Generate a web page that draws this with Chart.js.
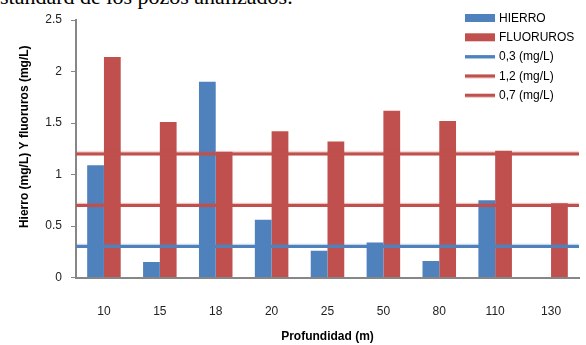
<!DOCTYPE html>
<html>
<head>
<meta charset="utf-8">
<script src="https://cdn.jsdelivr.net/npm/chart.js@4/dist/chart.umd.min.js"></script>
<style>
  html, body { margin: 0; padding: 0; background: #fff; }
  #wrap { position: relative; width: 586px; height: 345px; overflow: hidden; }
  #caption {
    position: absolute; left: 0; top: -14px; white-space: nowrap;
    font-family: "Liberation Serif", "DejaVu Serif", serif;
    font-size: 22px; line-height: 22px; color: #000;
  }
  canvas { position: absolute; left: 0; top: 0; }
</style>
</head>
<body>
<div id="wrap">
  <div id="caption">standard de los pozos analizados.</div>
  <canvas id="chart" width="586" height="345"></canvas>
</div>
<script>
// Profundidad de cada pozo (m)
const profundidades = ['10', '15', '18', '20', '25', '50', '80', '110', '130'];
// Concentraciones medidas (mg/L)
const hierro    = [1.09, 0.15, 1.90, 0.56, 0.26, 0.34, 0.16, 0.75, null];
const fluoruros = [2.14, 1.51, 1.22, 1.42, 1.32, 1.62, 1.52, 1.23, 0.72];
// Límites de referencia (mg/L)
const limiteHierro = 0.3;
const limiteFluorMax = 1.2;
const limiteFluorMin = 0.7;
// Etiquetas de la leyenda
const nombres = ['HIERRO', 'FLUORUROS', '0,3 (mg/L)', '1,2 (mg/L)', '0,7 (mg/L)'];

const AZUL = '#4F81BD';
const ROJO = '#C0504D';
const GRIS = '#868686';
const FUENTE = '"Liberation Sans", Arial, sans-serif';

// Wells sit at positions 1..n on a numeric x axis; the axis spans half a slot on each side
const xMin = 0.5;
const xMax = profundidades.length + 0.5;
const puntos = serie => serie.map((v, i) => ({ x: i + 1, y: v }));

// A horizontal reference line across the whole plot width
function linea(label, valor, color, halo) {
  return {
    type: 'line', label, order: 1,
    data: [{ x: xMin, y: valor }, { x: xMax, y: valor }],
    borderColor: color, backgroundColor: color, borderWidth: 3,
    pointRadius: 0, fill: false, halo
  };
}

// Soft halo around the reference lines
const haloPlugin = {
  id: 'halo',
  beforeDatasetDraw(chart, args) {
    const ds = chart.data.datasets[args.index];
    if (!ds.halo) return;
    const ctx = chart.ctx;
    ctx.save();
    ctx.shadowColor = ds.halo;
    ctx.shadowBlur = 1.5;
    ctx.shadowOffsetY = -1;
  },
  afterDatasetDraw(chart, args) {
    const ds = chart.data.datasets[args.index];
    if (ds.halo) chart.ctx.restore();
  }
};

// Legend drawn inside the plot, top-right
const leyendaPlugin = {
  id: 'leyenda',
  afterDraw(chart) {
    const ctx = chart.ctx;
    const x0 = 465, w = 30, y0 = 18, paso = 19.3;
    ctx.save();
    ctx.font = '12px ' + FUENTE;
    ctx.textBaseline = 'middle';
    ctx.textAlign = 'left';
    chart.data.datasets.forEach((ds, i) => {
      const y = y0 + i * paso;
      if (ds.type === 'line') {
        ctx.strokeStyle = ds.halo;
        ctx.lineWidth = 2;
        ctx.beginPath(); ctx.moveTo(x0, y + 1.5); ctx.lineTo(x0 + w, y + 1.5); ctx.stroke();
        ctx.strokeStyle = ds.borderColor;
        ctx.lineWidth = 3;
        ctx.beginPath(); ctx.moveTo(x0, y); ctx.lineTo(x0 + w, y); ctx.stroke();
      } else {
        ctx.fillStyle = ds.backgroundColor;
        ctx.fillRect(x0, y - 4, w, 8);
      }
      ctx.fillStyle = '#000';
      ctx.fillText(ds.label, x0 + w + 4, y + 0.5);
    });
    ctx.restore();
  }
};

new Chart(document.getElementById('chart'), {
  type: 'bar',
  data: {
    datasets: [
      { type: 'bar', label: nombres[0], data: puntos(hierro), backgroundColor: AZUL,
        order: 2, barPercentage: 1, categoryPercentage: 0.6 },
      { type: 'bar', label: nombres[1], data: puntos(fluoruros), backgroundColor: ROJO,
        order: 2, barPercentage: 1, categoryPercentage: 0.6 },
      linea(nombres[2], limiteHierro, AZUL, 'rgba(79,129,189,0.4)'),
      linea(nombres[3], limiteFluorMax, ROJO, 'rgba(192,80,77,0.4)'),
      linea(nombres[4], limiteFluorMin, ROJO, 'rgba(192,80,77,0.4)')
    ]
  },
  options: {
    responsive: false,
    devicePixelRatio: 1,
    animation: false,
    layout: { padding: { top: 20, right: 7, left: 0, bottom: 0 } },
    plugins: { legend: { display: false }, tooltip: { enabled: false } },
    scales: {
      x: {
        type: 'linear', position: 'bottom', min: xMin, max: xMax, offset: false,
        afterBuildTicks(s) { s.ticks = profundidades.map((_, i) => ({ value: i + 1 })); },
        grid: { display: false },
        border: { display: true, color: GRIS, width: 2 },
        ticks: { color: '#222', font: { family: FUENTE, size: 12 }, padding: 19, maxRotation: 0,
                 autoSkip: false, callback: v => profundidades[v - 1] },
        title: { display: true, text: 'Profundidad (m)', color: '#000',
                 font: { family: FUENTE, size: 12, weight: 'bold' }, padding: { top: 0, bottom: 1 } },
        afterFit(s) { s.height = 67.5; }
      },
      y: {
        min: 0, max: 2.5,
        ticks: { stepSize: 0.5, color: '#222', font: { family: FUENTE, size: 12 }, padding: 9,
                 callback: v => String(Number(v.toFixed(1))) },
        grid: { display: true, drawOnChartArea: false, drawTicks: true, tickLength: 5, color: GRIS },
        border: { display: true, color: GRIS, width: 2 },
        // leading en-spaces lift the rotated title slightly above the plot's mid-height
        title: { display: true, text: '\u2002\u2002\u2002\u2002Hierro (mg/L) Y fluoruros (mg/L)', color: '#000',
                 font: { family: FUENTE, size: 12, weight: 'bold' }, padding: { top: 17, bottom: 0 } },
        afterFit(s) { s.width = 76; }
      }
    }
  },
  plugins: [haloPlugin, leyendaPlugin]
});
</script>
</body>
</html>
